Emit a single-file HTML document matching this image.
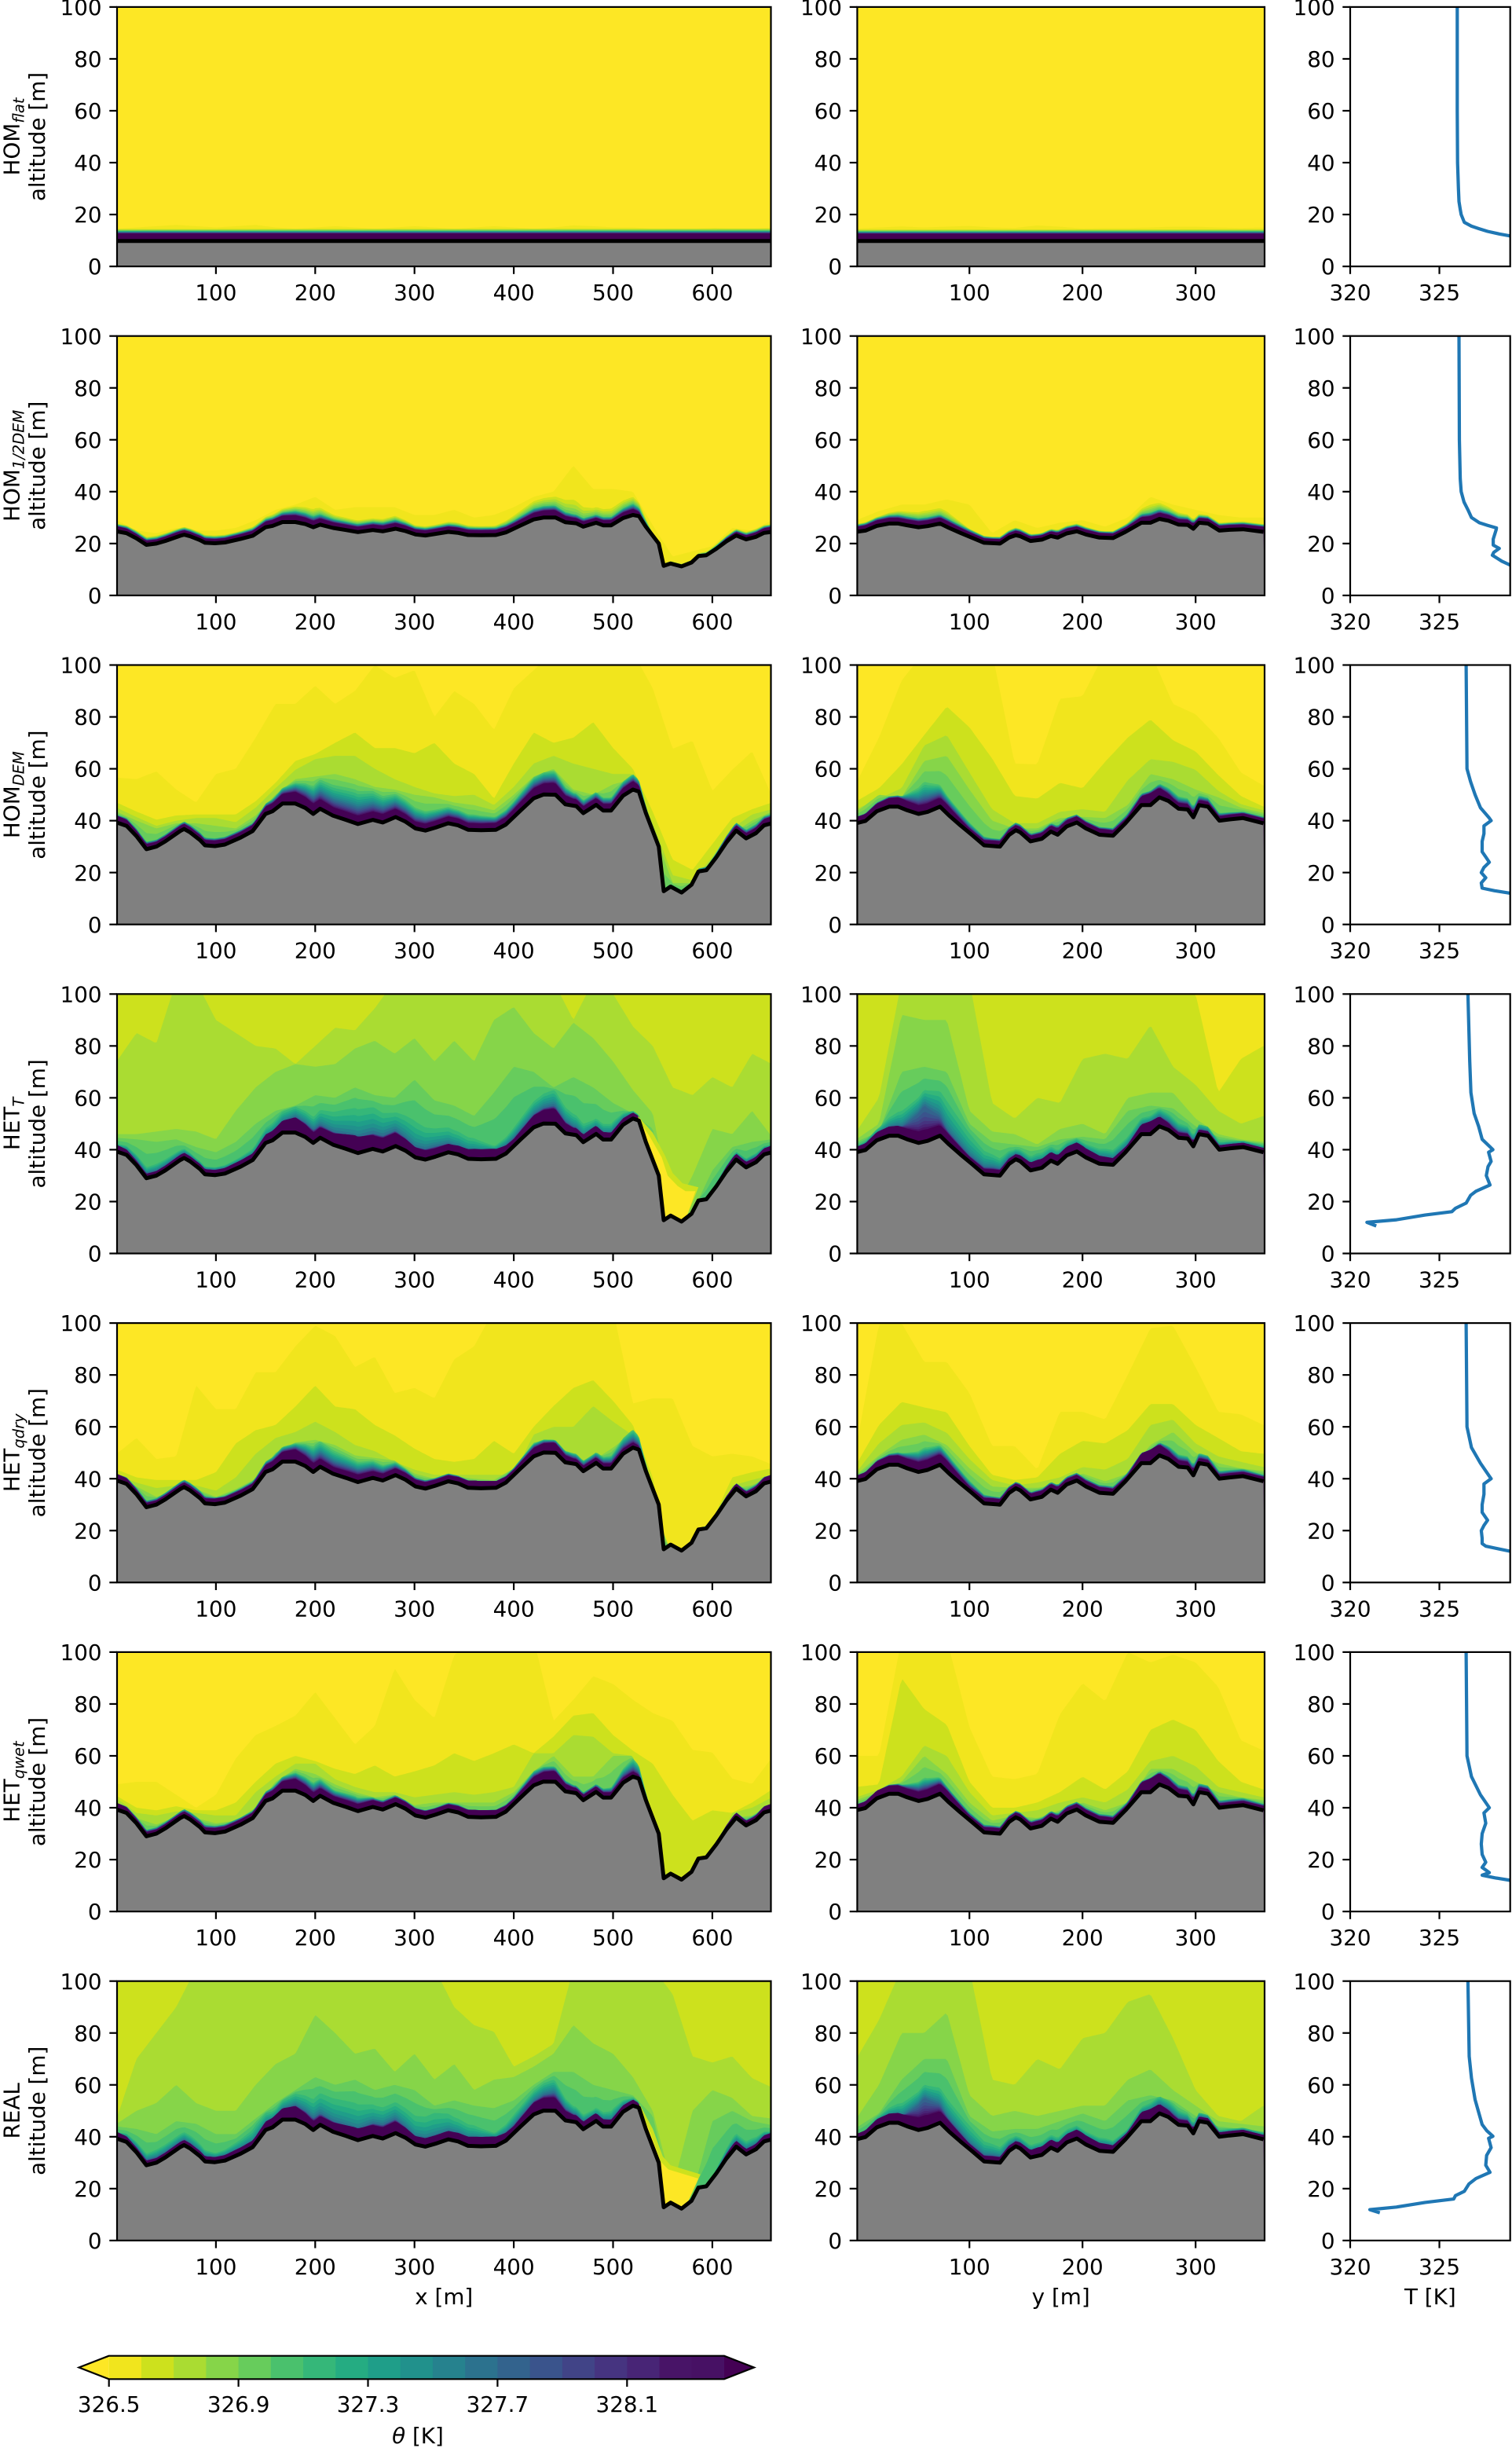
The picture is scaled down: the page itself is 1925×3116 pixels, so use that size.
<!DOCTYPE html>
<html lang="en">
<head>
<meta charset="utf-8">
<title>Potential temperature cross sections</title>
<style>
html,body{margin:0;padding:0;background:#fff;}
svg{display:block;}
text{font-family:"DejaVu Sans","Liberation Sans",sans-serif;font-size:27.8px;fill:#000;}
</style>
</head>
<body>
<svg id="figure" xmlns="http://www.w3.org/2000/svg" width="1925" height="3116" viewBox="0 0 1925 3116"></svg>
<script>
// ---- Tick labels ----
const altitudeTicks = [0, 20, 40, 60, 80, 100];
const xTicks = [100, 200, 300, 400, 500, 600];
const yTicks = [100, 200, 300];
const tempTicks = [320, 325];
const colorbarTicks = [326.5, 326.9, 327.3, 327.7, 328.1];
const rowLabels = ['flat', '1/2DEM', 'DEM', 'T', 'qdry', 'qwet', ''];
const rowPrefixes = ['HOM', 'HOM', 'HOM', 'HET', 'HET', 'HET', 'REAL'];

// ---- Colour levels (index 0 = below 326.5, index 19 = above 328.4) ----
const levelColors = ['#fde725','#f1e51d','#cde11d','#aadc32','#86d549','#67cc5c','#4ac16d','#35b779','#25ac82','#1f9e89','#21918c','#26828e','#2c728e','#33638d','#3a548c','#414487','#463480','#482576','#481467','#440154'];
const colorbarStart = 326.5;
const colorbarStep = 0.1;

// ---- Terrain ----
const terrainXPos = [0,10,20,30,40,49,64,68,74,84,89,99,109,125,137,150,157,167,180,190,198,205,218,231,243,258,268,281,291,301,311,321,334,344,354,367,382,392,407,420,430,442,452,463,470,483,490,498,510,520,526,533,546,551,558,569,579,586,594,604,614,624,634,644,652,660];
const terrainXDem = [39.3,38,34,29,30,32,36,36.8,35.5,32.5,30.5,30.2,30.8,33.5,36,42.6,43.6,46.6,46.6,44.9,42.6,44.6,41.9,40.3,38.7,40.3,39.3,41.4,39.6,37,36.2,37.3,39,38.2,36.5,36.3,36.5,38.5,44,48.6,50.1,50,46.3,45.6,42.9,46.1,43.9,43.9,49.6,52,51.2,43,30,12.8,14.6,12.3,15.3,20.4,20.9,25.9,31.5,36.2,33.2,35.2,38.2,39];
const terrainXHalf = [24.7,24,22,19.5,20,21,23,23.4,22.8,21.3,20.3,20.1,20.4,21.8,23,26.3,26.8,28.3,28.3,27.5,26.3,27.3,26,25.2,24.4,25.2,24.7,25.7,24.8,23.5,23.1,23.7,24.5,24.1,23.3,23.2,23.3,24.3,27,29.3,30,30,28.2,27.8,26.5,28,27,27,29.8,31,30.6,26.5,20,11.4,12.3,11.2,12.7,15.2,15.5,18,20.8,23.1,21.6,22.6,24.1,24.5];
const terrainYPos = [0,8,18,29,37,45,55,63,74,82,92,102,113,127,135,141,145,154,164,172,178,186,195,203,215,227,238,252,260,268,276,285,293,298,303,311,321,330,342,360];
const terrainYDem = [39,39.9,43.6,45.4,45.4,44,42.6,43.4,45.4,42,38.2,34.6,30.5,30,34.5,36.3,35.5,32,33,35.8,34.6,37.8,39.3,37,34.6,34.2,39,46,46,49,47.6,44.6,44.3,41.3,46,45.4,40,40.5,41,39];
const terrainYHalf = [24.5,25,26.8,27.7,27.7,27,26.3,26.7,27.7,26,24.1,22.3,20.3,20,22.3,23.2,22.8,21,21.5,22.9,22.3,23.9,24.7,23.5,22.3,22.1,24.5,28,28,29.5,28.8,27.3,27.2,25.7,28,27.7,25,25.3,25.5,24.5];
const terrainFlatPos = [0, 660];
const terrainFlat = [9.8, 9.8];

// ---- HOM flat ----
const flatXL1 = [14.5,15,15.5,16,15.5,15,15.5,16,15,14.5,15,15.5,15,14.5,15,15.5,15,14.5,15,15.5,15,14.5,15,15.8,15.5,15,15,14.5,14.5,14.5,14.8,14.5,14.5,15];
const flatXA2 = [4.6,4.8];
const flatXA6 = [3.9,4];
const flatXA19 = [2.9,2.9];
const flatYL1 = [14.6,15,15.4,15,15.3,15.6,15,14.8,15.8,15.3,14.6,14.8,14.8,15,15.3,15.3,15,14.8,15];
const flatYA2 = [4.4,4.5];
const flatYA6 = [3.7,3.8];
const flatYA19 = [2.8,2.8];

// ---- HOM 1/2 DEM ----
const halfXL1 = [29,25,24,26,25,25,26,29,33,35,38,33,34,34,34,31,31,33,30,31,34,38,40,50,41,41,40,27,15,17,19,26,25,29];
const halfXA2 = [3,3,3,3,3,3,3,3.5,4.5,6,7,5,4.5,4.5,5,3.5,3.5,4,3.5,3.5,5,7,8,9,6,6.5,7,1,1,1,1.5,2.5,3,3];
const halfXA6 = [2.6,2.4,2.3,2.5,2.4,2.4,2.5,2.7,3.4,4.4,4.4,3.5,3.2,3.3,3.6,2.8,2.8,3,2.8,2.8,3.2,4.3,4.8,3.5,3.2,3.3,4.5,.6,.5,.5,1,2,2.3,2.6];
const halfXA19 = [1.9,1.6,1.5,1.7,1.6,1.6,1.7,1.9,2.3,2.6,2.4,2.1,2,2.1,2.2,1.9,1.9,2,1.9,1.9,2,2.5,2.9,2,1.9,2,2.3,.3,.2,.2,.5,1.3,1.6,1.9];
const halfYL1 = [29,32.5,35,35,37,35,24,29,26,28,29,26.5,30,38,35,33,31,30,30];
const halfYA2 = [3,3.5,5,6,6,3,2.5,3,2.5,3,3,2.5,3,7,5,3.5,3,3,3];
const halfYA6 = [2.6,3,3.5,3.5,3.5,2.7,2.2,2.5,2.2,2.5,2.5,2.3,2.5,4,3.5,2.7,2.5,2.5,2.6];
const halfYA19 = [1.9,2.1,2.2,2.2,2.3,1.7,1.6,1.7,1.6,1.8,1.8,1.7,1.6,2.5,2.1,1.8,1.8,1.8,1.9];

// ---- HOM DEM ----
const demXL1 = [56.6,56,59,52,47,58,60,72,85,85,92,85,90,100,95,98,80,90,85,75,91,98,105,105,105,105,105,91,67.7,70.8,51.5,59.6,66.7,49.5];
const demXL2 = [47,43.5,40.4,42,42.4,42.4,42.4,47.5,54.6,63,65.7,70,74,68,68,66,70,62,58,48.5,62,74,70,72,78,68,60,43.4,25,21,31,41,44.4,47];
const demXL3 = [45,41.4,38,40,41,41,39.4,45,52.5,59.6,63.7,65,65,60,56,53,50.5,49.5,50,46,53,62,65,62,60,58,58,39,19,17,26,37,42.4,44.4];
const demXL4 = [43.5,40,37,39,39,38,37,42,50,56,57,58,56,53,52,50,49,47,46,44,50,57,60,52,50,54,56,37,16,16,24,35,40,43.5];
const demXA6 = [3,3,2.7,2.8,3,3,3,3,5,8,11,12,13,11,9,8,7,6,6,5,6,8,9,5,5,5,6,1,1,1,1.5,3,3.5,3.5];
const demXA19 = [2,1.6,1.4,1.5,1.5,1.6,1.6,1.8,2.5,3.5,3,2.5,2.5,2.5,2.5,2,2,2,2,2,2.3,3,3.5,2,2,2,2.5,.3,.2,.2,.5,1.5,1.5,2];
const demYL1 = [54.6,72,94,105,105,100,105,62,61.7,87,88,105,105,105,85,81,72,58.6,53.5];
const demYL2 = [47.5,52.5,61.7,73,84,76,64,49.5,48.5,54.6,52.5,62.7,72,79,71,66.7,57.6,49.5,45.4];
const demYL3 = [44.4,48.5,52.5,69,73,58.6,44.4,39,39,43.4,44.4,43.4,55.6,63.7,62.7,59.6,51.5,46.4,44];
const demYL4 = [43.4,50,49,63,65,52,40,37,37,41,41.5,41,46,58,56,52,49,45,43];
const demYA6 = [2.5,3.5,4.5,12,7,4,3,3,3,3.5,3,3,3,5.5,5,4,3,2.5,2.5];
const demYA19 = [1.8,2.3,2.8,2.5,2.7,1.3,1.6,1.5,1.7,1.8,1.8,1.7,1.2,3.5,1.8,1.5,1.3,1.4,1.4];

// ---- HET T ----
const hetTXL3 = [74,85,81,105,105,90,85,80,79,73,80,87,86,94.5,105,105,105,105,105,105,105,105,105,90,105,100,87.5,80,64,61,68,64,77,73];
const hetTXL4 = [46,46,47,48,47,44,55,64,70,73,72,73,79,82,77,83,74,82,74,90,95,85,79,89,83,74,63,54,15,30,48,46,55,45];
const hetTXL5 = [44.6,44,43,44,41,39,43,50,55,57,61,60,64,61,60,67,59,57,53,62,72,70,64,68,64,58,54,48,14,16,32,41,43,44];
const hetTXA7 = [3,4,4.5,4,3,3,3.5,4.5,7,10,10,13,17,16,13,14,11,9,8,5,7,10,13,8,6,6,3,.5,.2,.2,1,3,3.5,3];
const hetTXA13 = [2,2,1.8,2,2,2,2,2,3,6,5,5,6,6,6,4,4,3,3,3,3,5,7,3,2.5,2.5,2,.3,.1,.1,.5,2,2,2];
const hetTXA19 = [2,1.2,1.3,1.5,1.5,1.5,1.8,2,3,4.5,3,3.5,5,4,4,3,2.5,2.5,3,3,2,3.5,4.5,2,2.5,2,1.8,.2,.1,.1,.5,1.8,1.5,2];
const hetTPoolOuterX = [525,540,552,560,570,586,574,550];
const hetTPoolOuterAlt = [53,46.5,38,31,27,25.5,14,10];
const hetTPoolInnerX = [525,537,549,555,565,573,583,574,550];
const hetTPoolInnerAlt = [52,45,37,30,26,24,24,14,10];
const hetTYL2 = [105,105,105,105,105,105,105,105,105,105,105,105,105,105,105,100,62,75,80];
const hetTYL3 = [47,60,105,105,105,105,58,52,60,58,75,77,75,88,72,65,55,50,53];
const hetTYL4 = [44,50,92,90,90,55,47,46,42,48,50,46,60,62,62,52,46,44,43];
const hetTYL5 = [43,47,70,72,70,50,43,42,41,44,45,44,55,57,56,49,45,43.5,42.5];
const hetTYA7 = [2.5,4.5,10,20,16,11,8,4,6,5,5,6,5,7,6,4,3,2.5,2.5];
const hetTYA13 = [1.8,2.5,4,14,5,2.5,3,2,2.5,2.5,3,2.5,2,4.5,3,2,1.5,1.5,1.5];
const hetTYA19 = [1.6,2.5,3,3.6,3,1.5,1.7,1.5,2.7,2.5,2.8,2.2,1.5,3.8,1.6,1.3,1.3,1.3,1.3];

// ---- HET qdry ----
const qdryXL1 = [49.6,55.7,47.6,48.6,76,66.8,66.8,81,81,91,99,95,83,87,73,75,71,86,91,105,105,105,105,105,105,105,69,71,71,52.6,48.6,49.6,48.6,45.5];
const qdryXL2 = [43.5,40.5,39.5,39.5,39.5,42.5,53.6,58.7,60.7,67.8,75.9,67.8,66.8,60.7,56.7,51.6,47.6,46.5,47.6,54.6,49.6,60,68,75,78,70,60.7,40.5,2,12,24,40.5,42.5,44];
const qdryXL3 = [41.5,38.5,36.4,37.4,37.4,35.4,40.5,49.6,55.7,58,62,58,53,50.6,46.5,43.5,41.5,41.5,41.5,41.5,41.5,57,60,60,68,62,56.7,30,0,10,20,37.4,39.5,41.5];
const qdryXL4 = [40.5,37,33,35.5,36,33,36,40,50,54,55,53,49,48,47,42,40,41,40,39.5,44,54,55,46,47,52,58,30,10,10,20,36,37.5,41];
const qdryXA6 = [2.5,2.6,2.5,2.7,3,2.5,2.8,3,5,7,10,9,8,6.5,5,3.5,3,3,2.8,2.5,2.8,5,5,4,4,5,7,.8,.5,.5,1,2,2.5,2.5];
const qdryXA19 = [2,1.3,1.2,1.3,1.3,1.6,1.6,1.6,2.5,3.6,2.5,2,2.2,2,2,2,1.8,1.8,2.2,2,1.5,2.5,3,1.5,1.6,1.5,1.5,.2,.1,.1,.4,1.5,1.2,2];
const qdryYL1 = [52.6,99.6,100,85,85,73,52.6,52.6,43.5,65.8,65.8,62.8,80,98,99,83,65.8,64.8,60.7];
const qdryYL2 = [45.5,60.7,69.6,67.5,65.6,52.6,41.5,39.5,40.5,49.6,54.6,53.6,58.7,68.8,68.8,60.7,55.7,50.6,49.6];
const qdryYL3 = [42.5,53.6,60.7,61.7,57.7,47.6,39.5,37.4,38.5,40.5,44.5,43.5,47.6,60.7,62.8,53.6,48.6,46.5,44.5];
const qdryYL4 = [41.5,49,55,57,53,44,37,36.5,36.5,38,42,39,42,53,58,50,46,44,43];
const qdryYA6 = [2.2,3.6,5,9,7,4,3,2.5,3,3,3,3,2.5,5,5,4,3,2.8,2.5];
const qdryYA19 = [1.6,2.4,2.8,3,3.2,1.3,1.7,1.4,1.8,1.6,1.7,1.6,1.1,4,2,1.5,1.2,1.2,1.3];

// ---- HET qwet ----
const qwetXL1 = [49,50,50,45,40,45,59,68,71.5,75.5,84.6,74.5,64.4,71.5,93.7,81.6,74.5,98.8,105,105,105,105,73.5,81.6,90.7,87.7,81.6,76.5,73.5,62.3,61.3,51.2,49.2,59.3];
const qwetXL2 = [44.6,40,39,40.6,39,39,42,50,57,60,58,55,53,56.3,52,54,56.3,61,58,61,64.4,61,67.4,75.5,76.5,68,62,57,45,35,39,38,42,47];
const qwetXL3 = [43.6,38,37,38.6,38,37,37,46,52,57,57,51,48,46,46,44,45,46,45,46,48,61,61,68,67.4,61,60,23,10,0,21,38,40,44];
const qwetXL4 = [41.5,36,33.5,36.6,36,34,35,40,50,55,53,49,46,44,45,41,42,42,42,42,46,54,60,52,52,60,60,20,10,10,21,36,37,41.5];
const qwetXA6 = [2.5,2.5,2.5,2.5,3,2.8,2.8,2.8,4.5,7,7,5,5.5,3.5,3.5,3,2.7,3,2.8,2.7,2.8,5.5,6,3,3,4,7,.7,.4,.4,.8,2,2.2,2.5];
const qwetXA19 = [2,1.3,1.2,1.3,1.3,1.5,1.5,1.6,2.4,3.5,2.4,2,2.1,2,2,2,1.8,1.8,2.1,2,1.5,2.5,3.2,1.5,1.6,1.5,1.5,.2,.1,.1,.4,1.5,1.2,2];
const qwetYL1 = [60,60,105,105,105,71,52,51,53,76,88,81,100,96,99,96,86.6,66,62];
const qwetYL2 = [48,49,90,78,72,50,40,40,42,46,52,47,54,70,74,70,58,50,47];
const qwetYL3 = [44,47,52,64,60,46,37,38,39,42,44,42,47,58,60,56,48,46,44];
const qwetYL4 = [43,46,50,60,53,42,35,37,36,39,42,39,42,55,55,50,46,44,43];
const qwetYA6 = [2.4,3,4,8.5,5.5,3,3,2.5,3,3,3,3,2.5,5.5,4.5,3.5,2.8,2.8,2.5];
const qwetYA19 = [1.6,2.3,2.5,2.8,3,1.3,1.6,1.4,1.7,1.6,1.7,1.6,1.1,4,2.2,1.5,1.2,1.2,1.3];

// ---- REAL ----
const realXL3 = [47,70,80,90,105,105,105,105,105,105,105,105,105,105,105,105,105,90,83,80.5,67,71,75.8,105,105,105,105,105,95,71,68.6,71,62.6,59];
const realXL4 = [45,50,53,60,53,50,50,60,68,72,87,80,72,74,65,72,62,68,58,62,63,67,72,83,76,72,63,50,20,50,58,55,48,47];
const realXL5 = [44,43,41,46,45,41,41,47,53,58,63,60,62,58,60,58,52,54,52,51,54,60,65,65,60,58,56,48,15,18,46,50,46,44.5];
const realXA7 = [2.5,4,5,5,5,3.5,5,7,6,10,12,13,14,12,12,11,12,9,8,5,7,9,12,6,5,6,3,.4,.2,.2,1,5,5,3];
const realXA13 = [1.8,2,2,2,2,1.8,2,2,3,5.5,4.5,4,4,5,5.5,3,3,3,3,3,3,5,7,3,2.5,2.5,2,.3,.1,.1,.5,2,2,2];
const realXA19 = [2,1.3,1.3,1.5,1.5,1.5,1.8,2,3,4,2.5,2.8,3.5,3.2,3.5,2.5,2.5,2.5,2.8,2.8,2,3.5,4,2,2.4,2,1.8,.2,.1,.1,.5,1.8,1.5,2];
const realPoolOuterX = [526,540,550,558,588,574,550];
const realPoolOuterAlt = [53,43,32.5,29,25.5,13.7,10];
const realPoolInnerX = [526,538,548,555.6,586,574,550];
const realPoolInnerAlt = [52,41,30.4,27.4,23.9,13.7,10];
const realYL3 = [70,85,105,105,105,105,62,60,70,66,78,80,92,95,78,58,48,46,52];
const realYL4 = [47,60,80,80,88,56,48,50,48,50,52,52,62,66,58,52,46,45,44];
const realYL5 = [43.5,49,62,70,70,48,42,43,43,46,49,46,54,56,54,48,44,43,42];
const realYA7 = [2,4,8,17,12,9,7,4,5,5,5,5,3,7,6,3.5,2.5,2.5,2.5];
const realYA13 = [1.7,2.4,3,12,5,2.3,2.5,2,2.4,2.4,2.7,2.4,1.8,4,2.8,2,1.5,1.5,1.5];
const realYA19 = [1.6,2.5,3,4,3.2,1.5,1.7,1.5,2.5,2.4,2.8,2.2,1.4,3.6,1.6,1.3,1.3,1.3,1.3];

// ---- Mean temperature profiles: altitudes [m] and temperatures [K] ----
const profFlatAlt = [100,60,40,30,25,22,20,17,15.5,14.5,13.5,12.5,11.7,10.5];
const profFlatT = [326,326,326.02,326.07,326.1,326.17,326.22,326.4,326.8,327.24,327.7,328.36,329,331];
const profHalfAlt = [100,60,45,40,36,33,30,28,27,26,25.3,21.7,19.4,18.1,16.6,15.5,13.2,11.6,10.5];
const profHalfT = [326.1,326.12,326.17,326.22,326.38,326.6,326.8,327.24,327.7,328.2,328.18,328.02,328.02,328.36,328.05,327.97,328.5,329,331];
const profDemAlt = [100,60,55,50,45,41,40,38,35,32,28,26,24,22,20,18,16,14,13,12,11];
const profDemT = [326.5,326.55,326.75,327,327.3,327.8,327.9,327.5,327.5,327.4,327.4,327.6,327.8,327.5,327.35,327.6,327.35,327.4,328.1,329,331];
const profHetTAlt = [100,74,62,54,49,44,42,40,39,35.5,33.5,30,26.4,24,22.4,19.4,17.4,16.1,14.8,13,12,10.6];
const profHetTT = [326.6,326.7,326.77,326.95,327.2,327.4,327.7,328,327.76,327.9,327.73,327.63,327.84,327.05,326.75,326.5,325.9,325.7,324.2,322.6,320.94,321.46];
const profQdryAlt = [100,60,52,46,41,40,38,34,30,27,24,22,20,17,15,14,13,12,11];
const profQdryT = [326.5,326.55,326.8,327.3,327.8,327.9,327.5,327.5,327.4,327.4,327.7,327.5,327.35,327.4,327.4,327.6,328.3,329,331];
const profQwetAlt = [100,60,52,45,40,38,34,30,26,22,19,17,15,14,13,12,11];
const profQwetT = [326.5,326.55,326.8,327.3,327.8,327.5,327.6,327.4,327.35,327.4,327.6,327.4,327.8,327.4,328.1,329,331];
const profRealAlt = [100,71,62.6,54.3,49.5,44.7,42.4,40.2,39.4,35.8,32.8,29,26.3,23.9,21.8,19,17.3,16,14.7,12.9,11.9,10.7];
const profRealT = [326.6,326.67,326.8,327,327.2,327.4,327.65,328,327.76,327.9,327.65,327.6,327.84,327.05,326.66,326.4,325.9,325.8,324.2,322.6,321.1,321.66];

// ---- Panel composition ----
const rows = [
  {id:'hom-flat', profA:profFlatAlt, profT:profFlatT,
   x:{terrainPos:terrainFlatPos, terrain:terrainFlat, bg:0, alt:{1:flatXL1}, agl:{2:flatXA2,6:flatXA6,19:flatXA19}},
   y:{terrainPos:terrainFlatPos, terrain:terrainFlat, bg:0, alt:{1:flatYL1}, agl:{2:flatYA2,6:flatYA6,19:flatYA19}}},
  {id:'hom-half-dem', profA:profHalfAlt, profT:profHalfT,
   x:{terrainPos:terrainXPos, terrain:terrainXHalf, bg:0, alt:{1:halfXL1}, agl:{2:halfXA2,6:halfXA6,19:halfXA19}},
   y:{terrainPos:terrainYPos, terrain:terrainYHalf, bg:0, alt:{1:halfYL1}, agl:{2:halfYA2,6:halfYA6,19:halfYA19}}},
  {id:'hom-dem', profA:profDemAlt, profT:profDemT,
   x:{terrainPos:terrainXPos, terrain:terrainXDem, bg:0, thick:1.3, alt:{1:demXL1,2:demXL2,3:demXL3,4:demXL4}, agl:{6:demXA6,19:demXA19}},
   y:{terrainPos:terrainYPos, terrain:terrainYDem, bg:0, thick:1.3, alt:{1:demYL1,2:demYL2,3:demYL3,4:demYL4}, agl:{6:demYA6,19:demYA19}}},
  {id:'het-t', profA:profHetTAlt, profT:profHetTT,
   x:{terrainPos:terrainXPos, terrain:terrainXDem, bg:2, thick:1.3, alt:{3:hetTXL3,4:hetTXL4,5:hetTXL5}, agl:{7:hetTXA7,13:hetTXA13,19:hetTXA19},
      pools:[[2,hetTPoolOuterX,hetTPoolOuterAlt],[0,hetTPoolInnerX,hetTPoolInnerAlt]]},
   y:{terrainPos:terrainYPos, terrain:terrainYDem, bg:1, thick:1.3, alt:{2:hetTYL2,3:hetTYL3,4:hetTYL4,5:hetTYL5}, agl:{7:hetTYA7,13:hetTYA13,19:hetTYA19}}},
  {id:'het-qdry', profA:profQdryAlt, profT:profQdryT,
   x:{terrainPos:terrainXPos, terrain:terrainXDem, bg:0, thick:1.3, alt:{1:qdryXL1,2:qdryXL2,3:qdryXL3,4:qdryXL4}, agl:{6:qdryXA6,19:qdryXA19}},
   y:{terrainPos:terrainYPos, terrain:terrainYDem, bg:0, thick:1.3, alt:{1:qdryYL1,2:qdryYL2,3:qdryYL3,4:qdryYL4}, agl:{6:qdryYA6,19:qdryYA19}}},
  {id:'het-qwet', profA:profQwetAlt, profT:profQwetT,
   x:{terrainPos:terrainXPos, terrain:terrainXDem, bg:0, thick:1.3, alt:{1:qwetXL1,2:qwetXL2,3:qwetXL3,4:qwetXL4}, agl:{6:qwetXA6,19:qwetXA19}},
   y:{terrainPos:terrainYPos, terrain:terrainYDem, bg:0, thick:1.3, alt:{1:qwetYL1,2:qwetYL2,3:qwetYL3,4:qwetYL4}, agl:{6:qwetYA6,19:qwetYA19}}},
  {id:'real', profA:profRealAlt, profT:profRealT,
   x:{terrainPos:terrainXPos, terrain:terrainXDem, bg:2, thick:1.3, alt:{3:realXL3,4:realXL4,5:realXL5}, agl:{7:realXA7,13:realXA13,19:realXA19},
      pools:[[2,realPoolOuterX,realPoolOuterAlt],[0,realPoolInnerX,realPoolInnerAlt]]},
   y:{terrainPos:terrainYPos, terrain:terrainYDem, bg:2, thick:1.3, alt:{3:realYL3,4:realYL4,5:realYL5}, agl:{7:realYA7,13:realYA13,19:realYA19}}}
];

// ---- Layout ----
const NS = 'http://www.w3.org/2000/svg';
const svg = document.getElementById('figure');
const ROW_TOP = 8.9, ROW_STEP = 418.8, ROW_H = 330.2;
const colX = {l:149, r:981.5, d0:0.4, d1:659, span:660};
const colY = {l:1091.4, r:1610, d0:0.8, d1:361, span:360};
const colT = {l:1719, r:1922.7, d0:320, d1:328.97};

function mk(tag, attrs, parent) {
  const n = document.createElementNS(NS, tag);
  for (const k in attrs) n.setAttribute(k, attrs[k]);
  parent.appendChild(n);
  return n;
}
function linScale(d0, d1, r0, r1) { return v => r0 + (v - d0) * (r1 - r0) / (d1 - d0); }
function lerp(xs, ys, x) {
  if (x <= xs[0]) return ys[0];
  for (let i = 1; i < xs.length; i++) {
    if (x <= xs[i]) return ys[i-1] + (ys[i] - ys[i-1]) * (x - xs[i-1]) / (xs[i] - xs[i-1]);
  }
  return ys[ys.length - 1];
}
function gridLerp(arr, span, x) {
  const p = Math.max(0, Math.min(arr.length - 1, x / span * (arr.length - 1)));
  const i = Math.min(arr.length - 2, Math.floor(p));
  return arr[i] + (arr[i+1] - arr[i]) * (p - i);
}
function drawAxesTicks(g, sx, sy, xt, col, top) {
  const bottom = top + ROW_H;
  altitudeTicks.forEach(v => {
    const yy = sy(v);
    const tick = mk('line', {x1:col.l-9.7, x2:col.l, y1:yy, y2:yy, stroke:'#000', 'stroke-width':2.2}, g);
    
    
    const lab = mk('text', {x:col.l-19.4, y:yy+10.1, 'text-anchor':'end'}, g);
    lab.textContent = String(v);
    
    
  });
  xt.forEach(v => {
    const xx = sx(v);
    const tick = mk('line', {x1:xx, x2:xx, y1:bottom, y2:bottom+9.7, stroke:'#000', 'stroke-width':2.2}, g);
    
    
    const lab = mk('text', {x:xx, y:bottom+43, 'text-anchor':'middle'}, g);
    lab.textContent = String(v);
    
    
  });
  const frame = mk('rect', {x:col.l, y:top, width:col.r-col.l, height:ROW_H, fill:'none', stroke:'#000', 'stroke-width':2.2}, g);
  
  
}

function drawContourPanel(panel, col, top, name, xt, clipId) {
  const g = mk('g', {}, svg);
  
  
  const sx = linScale(col.d0, col.d1, col.l, col.r);
  const sy = linScale(0, 100, top + ROW_H, top);
  const clip = mk('clipPath', {id:clipId}, g);
  
  
  const clipRect = mk('rect', {x:col.l, y:top, width:col.r-col.l, height:ROW_H}, clip);
  
  
  const inner = mk('g', {'clip-path':'url(#' + clipId + ')'}, g);
  
  

  const bgRect = mk('rect', {x:col.l, y:top, width:col.r-col.l, height:ROW_H, fill:levelColors[panel.bg]}, inner);
  
  

  const keys = Object.keys(panel.alt).concat(Object.keys(panel.agl)).map(Number).sort((a,b) => a-b);
  const terr = x => lerp(panel.terrainPos, panel.terrain, x);
  const isAgl = k => panel.agl[k] !== undefined;
  const aglAt = (k, x) => gridLerp(panel.agl[k], col.span, x) * (k === 19 ? (panel.thick || 1) : 1);
  const keyAlt = (k, x) => isAgl(k) ? terr(x) + aglAt(k, x) : gridLerp(panel.alt[k], col.span, x);
  function levelAlt(k, x) {
    if (isAgl(k) || panel.alt[k]) return keyAlt(k, x);
    let a = keys[0], b = keys[keys.length-1];
    for (const q of keys) { if (q < k) a = q; if (q > k) { b = q; break; } }
    const t = (k - a) / (b - a);
    if (isAgl(a) && isAgl(b)) {
      const ha = aglAt(a, x), hb = aglAt(b, x);
      return terr(x) + Math.exp(Math.log(ha) * (1-t) + Math.log(hb) * t);
    }
    return keyAlt(a, x) * (1-t) + keyAlt(b, x) * t;
  }
  const bottom = top + ROW_H;
  for (let k = keys[0]; k <= 19; k++) {
    let pts = col.l + ',' + bottom;
    for (let x = col.d0; x <= col.d1 + 2; x += 2) {
      const xv = Math.min(x, col.d1);
      pts += ' ' + sx(xv).toFixed(1) + ',' + sy(levelAlt(k, xv)).toFixed(1);
    }
    pts += ' ' + col.r + ',' + bottom;
    const band = mk('polygon', {points:pts, fill:levelColors[k]}, inner);
    
    
  }
  (panel.pools || []).forEach(p => {
    const pts = p[1].map((v, i) => sx(v).toFixed(1) + ',' + sy(p[2][i]).toFixed(1)).join(' ');
    const pool = mk('polygon', {points:pts, fill:levelColors[p[0]]}, inner);
    
    
  });
  let line = '';
  panel.terrainPos.forEach((v, i) => { line += sx(v).toFixed(1) + ',' + sy(panel.terrain[i]).toFixed(1) + ' '; });
  const ground = mk('polygon', {points:col.l + ',' + bottom + ' ' + line + col.r + ',' + bottom, fill:'#808080'}, inner);
  
  
  const edge = mk('polyline', {points:line, fill:'none', stroke:'#000', 'stroke-width':5, 'stroke-linejoin':'round'}, inner);
  
  
  drawAxesTicks(g, sx, sy, xt, col, top);
}

function drawProfile(row, top, name, clipId) {
  const g = mk('g', {}, svg);
  
  
  const sx = linScale(colT.d0, colT.d1, colT.l, colT.r);
  const sy = linScale(0, 100, top + ROW_H, top);
  const clip = mk('clipPath', {id:clipId}, g);
  
  
  const clipRect = mk('rect', {x:colT.l, y:top, width:colT.r-colT.l, height:ROW_H}, clip);
  
  
  const pts = row.profT.map((t, i) => sx(t).toFixed(1) + ',' + sy(row.profA[i]).toFixed(1)).join(' ');
  const line = mk('polyline', {points:pts, fill:'none', stroke:'#1f77b4', 'stroke-width':4.2, 'stroke-linejoin':'round', 'clip-path':'url(#' + clipId + ')'}, g);
  
  
  drawAxesTicks(g, sx, sy, tempTicks, colT, top);
}

rows.forEach((row, r) => {
  const top = ROW_TOP + ROW_STEP * r;
  drawContourPanel(row.x, colX, top, row.id + '-x', xTicks, 'cx' + r);
  drawContourPanel(row.y, colY, top, row.id + '-y', yTicks, 'cy' + r);
  drawProfile(row, top, row.id, 'ct' + r);
  const cy = top + ROW_H / 2;
  const head = mk('text', {transform:'translate(24.5 ' + cy + ') rotate(-90)', 'text-anchor':'middle'}, svg);
  
  
  const prefix = mk('tspan', {}, head);
  prefix.textContent = rowPrefixes[r];
  
  
  if (rowLabels[r]) {
    const sub = mk('tspan', {dy:6, 'font-style':'italic', style:'font-size:19.5px'}, head);
    sub.textContent = rowLabels[r];
    
    
  }
  const alt = mk('text', {transform:'translate(57 ' + cy + ') rotate(-90)', 'text-anchor':'middle'}, svg);
  alt.textContent = 'altitude [m]';
  
  
});

// Bottom axis titles
const xTitle = mk('text', {x:(colX.l+colX.r)/2, y:2933, 'text-anchor':'middle'}, svg);
xTitle.textContent = 'x [m]';


const yTitle = mk('text', {x:(colY.l+colY.r)/2, y:2933, 'text-anchor':'middle'}, svg);
yTitle.textContent = 'y [m]';


const tTitle = mk('text', {x:(colT.l+colT.r)/2, y:2933, 'text-anchor':'middle'}, svg);
tTitle.textContent = 'T [K]';



// Colorbar
const cb = mk('g', {}, svg);


const cbLeft = 138.7, cbRight = 922, cbTop = 2998.7, cbBottom = 3028.3, cbTipL = 100.5, cbTipR = 960;
const cbMid = (cbTop + cbBottom) / 2;
const cbScale = linScale(colorbarStart, colorbarStart + 1.9, cbLeft, cbRight);
const under = mk('polygon', {points:cbLeft + ',' + cbTop + ' ' + cbTipL + ',' + cbMid + ' ' + cbLeft + ',' + cbBottom, fill:levelColors[0]}, cb);


const over = mk('polygon', {points:cbRight + ',' + cbTop + ' ' + cbTipR + ',' + cbMid + ' ' + cbRight + ',' + cbBottom, fill:levelColors[19]}, cb);


for (let i = 0; i < 18; i++) {
  const a = cbScale(colorbarStart + colorbarStep * i);
  const b = cbScale(colorbarStart + colorbarStep * (i + 1));
  const cell = mk('rect', {x:a, y:cbTop, width:b-a+0.5, height:cbBottom-cbTop, fill:levelColors[i+1]}, cb);
  
  
}
const lastCell = mk('rect', {x:cbScale(colorbarStart + colorbarStep * 18), y:cbTop, width:cbRight-cbScale(colorbarStart + colorbarStep * 18), height:cbBottom-cbTop, fill:'#471164'}, cb);


const cbOutline = mk('polygon', {points:cbLeft+','+cbTop+' '+cbTipL+','+cbMid+' '+cbLeft+','+cbBottom+' '+cbRight+','+cbBottom+' '+cbTipR+','+cbMid+' '+cbRight+','+cbTop, fill:'none', stroke:'#000', 'stroke-width':2.2}, cb);


colorbarTicks.forEach(v => {
  const xx = cbScale(v);
  const tick = mk('line', {x1:xx, x2:xx, y1:cbBottom, y2:cbBottom+9.7, stroke:'#000', 'stroke-width':2.2}, cb);
  
  
  const lab = mk('text', {x:xx, y:3070, 'text-anchor':'middle'}, cb);
  lab.textContent = v.toFixed(1);
  
  
});
const cbTitle = mk('text', {x:532, y:3110, 'text-anchor':'middle'}, cb);


const thetaSym = mk('tspan', {'font-style':'italic'}, cbTitle);
thetaSym.textContent = 'θ';


const thetaUnit = mk('tspan', {}, cbTitle);
thetaUnit.textContent = ' [K]';


</script>
</body>
</html>
